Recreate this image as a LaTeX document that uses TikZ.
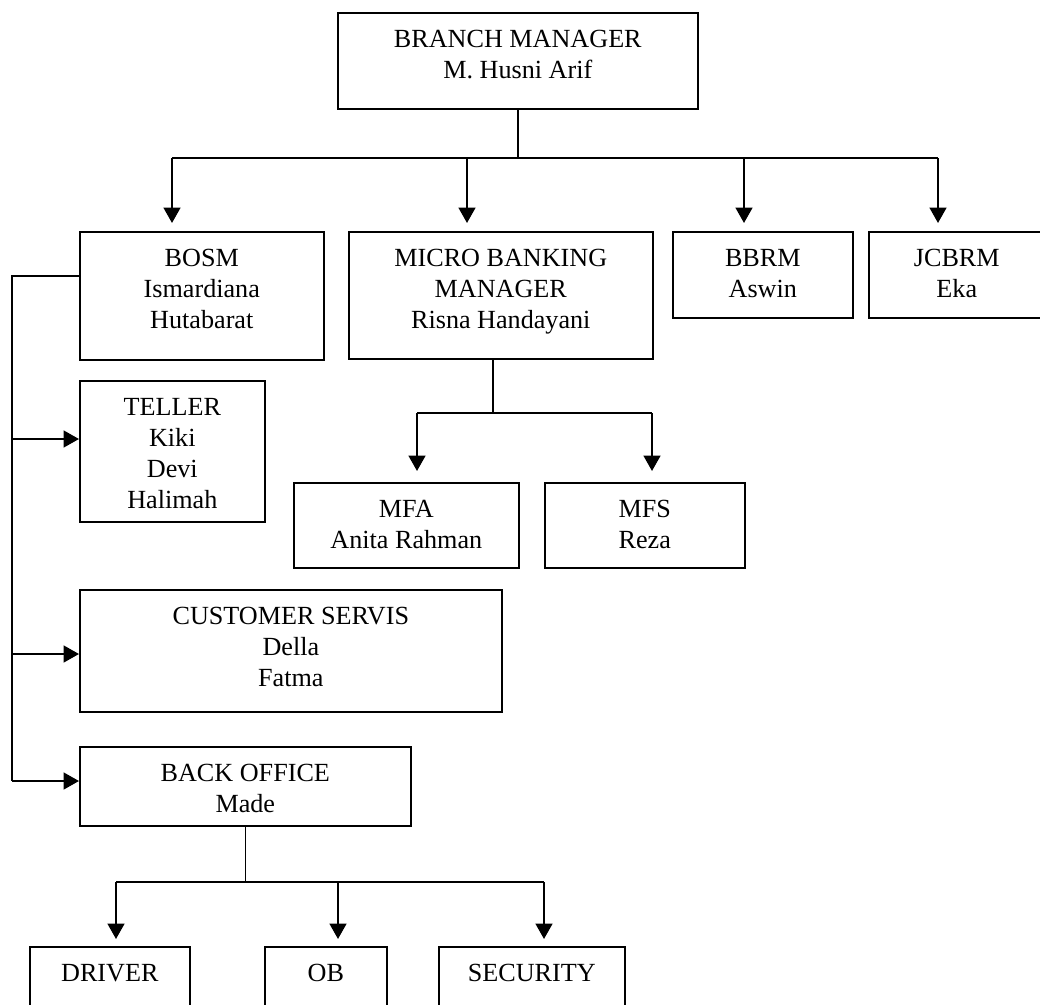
\documentclass[tikz,border=0pt]{standalone}
\usepackage{fontspec}
\setmainfont{Liberation Serif}
\usetikzlibrary{arrows.meta, positioning}

\begin{document}
\begin{tikzpicture}[
    x=0.025cm, y=-0.025cm,
    box/.style={
        rectangle, draw=black, line width=1.1pt,
        anchor=north west, inner sep=0pt,
        minimum height=2.15cm
    },
    txt/.style={
        align=center, inner sep=0pt,
        font=\fontsize{18.6}{22}\selectfont
    },
    conn/.style={line width=1pt},
    arr/.style={-{Triangle[width=12pt,length=11pt]}, line width=1.5pt},
]
\useasboundingbox (0,0) rectangle (1040,1005);

% Branch manager
\node[box, minimum width=9cm, minimum height=2.4cm] (bm) at (337,12) {};
\node[txt, below=0.45cm of bm.north] (bmT) {BRANCH MANAGER\\M. Husni Arif};

% Second row
\node[box, minimum width=6.1cm, minimum height=3.2cm] (bosm) at (79,231) {};
\node[txt, below=0.45cm of bosm.north] (bosmT) {BOSM\\Ismardiana\\Hutabarat};

\node[box, minimum width=7.6cm, minimum height=3.175cm] (mbm) at (348,231) {};
\node[txt, below=0.45cm of mbm.north] (mbmT) {MICRO BANKING\\MANAGER\\Risna Handayani};

\node[box, minimum width=4.5cm] (bbrm) at (672,231) {};
\node[txt, below=0.45cm of bbrm.north] (bbrmT) {BBRM\\Aswin};

\node[box, minimum width=4.4cm] (jcbrm) at (868,231) {};
\node[txt, below=0.45cm of jcbrm.north] (jcbrmT) {JCBRM\\Eka};

% Under BOSM
\node[box, minimum width=4.625cm, minimum height=3.525cm] (teller) at (79,380) {};
\node[txt, below=0.45cm of teller.north] (tellerT) {TELLER\\Kiki\\Devi\\Halimah};

\node[box, minimum width=10.55cm, minimum height=3.05cm] (cs) at (79,589) {};
\node[txt, below=0.45cm of cs.north] (csT) {CUSTOMER SERVIS\\Della\\Fatma};

\node[box, minimum width=8.275cm, minimum height=1.975cm] (bo) at (79,746) {};
\node[txt, below=0.45cm of bo.north] (boT) {BACK OFFICE\\Made};

% Under micro banking manager
\node[box, minimum width=5.625cm, minimum height=2.125cm] (mfa) at (293,482) {};
\node[txt, below=0.45cm of mfa.north] (mfaT) {MFA\\Anita Rahman};

\node[box, minimum width=5cm, minimum height=2.125cm] (mfs) at (544,482) {};
\node[txt, below=0.45cm of mfs.north] (mfsT) {MFS\\Reza};

% Under back office
\node[box, minimum width=4cm] (driver) at (29,946) {};
\node[txt, below=0.45cm of driver.north] (driverT) {DRIVER};

\node[box, minimum width=3.05cm] (ob) at (264,946) {};
\node[txt, below=0.45cm of ob.north] (obT) {OB};

\node[box, minimum width=4.65cm] (security) at (438,946) {};
\node[txt, below=0.45cm of security.north] (securityT) {SECURITY};

% Branch manager to second row
\coordinate (j1) at (172,158);
\coordinate (j2) at (467,158);
\coordinate (j3) at (744,158);
\coordinate (j4) at (938,158);
\draw[conn] (bm.south) -- (bm.south |- j1);
\draw[conn] (j1) -- (j4);
\draw[arr, shorten >=0.2cm] (j1) -- (j1 |- bosm.north);
\draw[arr, shorten >=0.2cm] (j2) -- (j2 |- mbm.north);
\draw[arr, shorten >=0.2cm] (j3) -- (j3 |- bbrm.north);
\draw[arr, shorten >=0.2cm] (j4) -- (j4 |- jcbrm.north);

% BOSM to its staff
\coordinate (l0) at (12,276);
\coordinate (l1) at (12,439);
\coordinate (l2) at (12,654);
\coordinate (l3) at (12,781);
\draw[conn] (l0 -| bosm.west) -- (l0) -- (l3);
\draw[arr] (l1) -- (l1 -| teller.west);
\draw[arr] (l2) -- (l2 -| cs.west);
\draw[arr] (l3) -- (l3 -| bo.west);

% Micro banking manager to MFA / MFS
\coordinate (m0) at (493,413);
\coordinate (m1) at (417,413);
\coordinate (m2) at (652,413);
\draw[conn] (m0 |- mbm.south) -- (m0);
\draw[conn] (m1) -- (m2);
\draw[arr, shorten >=0.275cm] (m1) -- (m1 |- mfa.north);
\draw[arr, shorten >=0.275cm] (m2) -- (m2 |- mfs.north);

% Back office to driver, OB, security
\coordinate (d1) at (116,882);
\coordinate (d2) at (338,882);
\coordinate (d3) at (544,882);
\draw[conn] (bo.south) -- (bo.south |- d1);
\draw[conn] (d1) -- (d3);
\draw[arr, shorten >=0.175cm] (d1) -- (d1 |- driver.north);
\draw[arr, shorten >=0.175cm] (d2) -- (d2 |- ob.north);
\draw[arr, shorten >=0.175cm] (d3) -- (d3 |- security.north);

\end{tikzpicture}
\end{document}
